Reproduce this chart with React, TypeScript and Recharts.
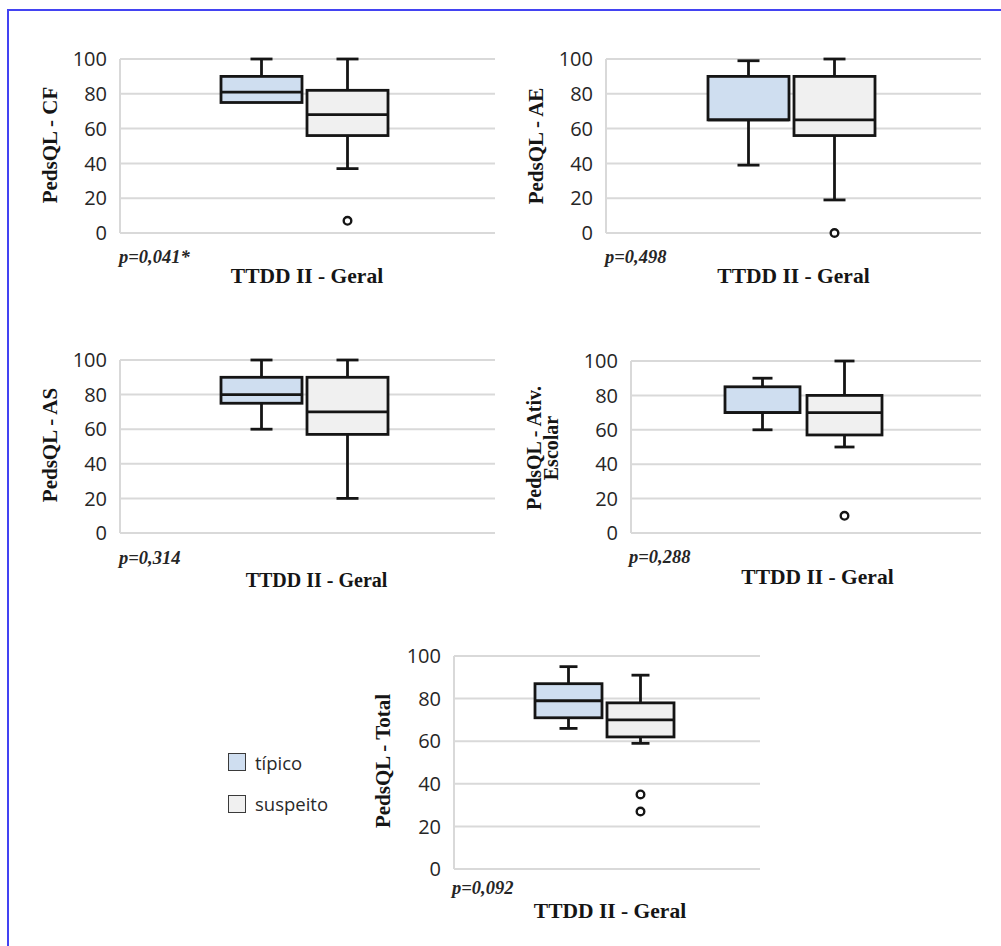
import { Bar, CartesianGrid, ComposedChart, XAxis, YAxis } from "recharts";

const category = "TTDD II - Geral";
const yLabels = ["PedsQL - CF", "PedsQL - AE", "PedsQL - AS", "PedsQL - Ativ.\nEscolar", "PedsQL - Total"];
const pValues = ["p=0,041*", "p=0,498", "p=0,314", "p=0,288", "p=0,092"];
const yTicks = [0, 20, 40, 60, 80, 100];

// five-number summaries, one entry per panel (CF, AE, AS, Ativ. Escolar, Total)
const tipicoMin = [75, 39, 60, 60, 66];
const tipicoQ1 = [75, 65, 75, 70, 71];
const tipicoMedian = [81, 65, 80, 70, 79];
const tipicoQ3 = [90, 90, 90, 85, 87];
const tipicoMax = [100, 99, 100, 90, 95];
const tipicoOutliers: number[][] = [[], [], [], [], []];

const suspeitoMin = [37, 19, 20, 50, 59];
const suspeitoQ1 = [56, 56, 57, 57, 62];
const suspeitoMedian = [68, 65, 70, 70, 70];
const suspeitoQ3 = [82, 90, 90, 80, 78];
const suspeitoMax = [100, 100, 100, 100, 91];
const suspeitoOutliers: number[][] = [[7], [0], [], [10], [35, 27]];

const TIPICO_FILL = "#cfdef0";
const SUSPEITO_FILL = "#f0f0f0";
const INK = "#151515";
const GRID = "#d9d9d9";

type Stats = { min: number; q1: number; median: number; q3: number; max: number; outliers: number[] };

const layouts = [
  { left: 120, top: 59, w: 375, h: 174, bar: 81, gap: 5, padR: 6, label: [49.5, 145], p: [119, 256.5], title: [307, 277, 21.5] },
  { left: 606, top: 59, w: 375, h: 174, bar: 81, gap: 5, padR: 4, label: [535.5, 146], p: [605, 256.5], title: [793.5, 277, 21.5] },
  { left: 120, top: 360, w: 375, h: 173, bar: 81, gap: 5, padR: 6, label: [49.5, 445], p: [119, 558], title: [316.5, 580, 20] },
  { left: 631, top: 361, w: 350, h: 172, bar: 75, gap: 7, padR: 5, label: [543, 448], p: [629, 557], title: [817.5, 578, 21.5] },
  { left: 454, top: 656, w: 306, h: 213, bar: 67, gap: 5, padR: 5, label: [382.5, 761], p: [452, 888], title: [610, 912, 21.5] },
];

function makeBox(stats: Stats, fill: string) {
  return (props: any) => {
    const { x, y, width, height } = props;
    if (x == null || y == null || !height) return <g />;
    // bar spans [min, max]; map any value through the same linear scale
    const toY = (v: number) => y + (height * (stats.max - v)) / (stats.max - stats.min);
    const cx = x + width / 2;
    const cap = Math.round(width * 0.27);
    const yMax = toY(stats.max);
    const yQ3 = toY(stats.q3);
    const yMed = toY(stats.median);
    const yQ1 = toY(stats.q1);
    const yMin = toY(stats.min);
    return (
      <g stroke={INK} strokeWidth={2.8}>
        <line x1={cx} x2={cx} y1={yMax} y2={yQ3} />
        <line x1={cx - cap / 2} x2={cx + cap / 2} y1={yMax} y2={yMax} />
        <line x1={cx} x2={cx} y1={yQ1} y2={yMin} />
        {yMin - yQ1 > 1 && <line x1={cx - cap / 2} x2={cx + cap / 2} y1={yMin} y2={yMin} />}
        <rect x={x} y={yQ3} width={width} height={yQ1 - yQ3} fill={fill} />
        <line x1={x} x2={x + width} y1={yMed} y2={yMed} />
        {stats.outliers.map((o, i) => (
          <circle key={i} cx={cx} cy={toY(o)} r={3.8} fill="#fff" strokeWidth={2.4} />
        ))}
      </g>
    );
  };
}

function Panel({ i }: { i: number }) {
  const L = layouts[i];
  const tip: Stats = {
    min: tipicoMin[i], q1: tipicoQ1[i], median: tipicoMedian[i], q3: tipicoQ3[i], max: tipicoMax[i], outliers: tipicoOutliers[i],
  };
  const sus: Stats = {
    min: suspeitoMin[i], q1: suspeitoQ1[i], median: suspeitoMedian[i], q3: suspeitoQ3[i], max: suspeitoMax[i], outliers: suspeitoOutliers[i],
  };
  const data = [{ name: category, tipico: [tip.min, tip.max], suspeito: [sus.min, sus.max] }];
  const axisW = 60;
  const pad = 22;
  const lines = yLabels[i].split("\n");

  return (
    <>
      <div style={{ position: "absolute", left: L.left - axisW, top: L.top - pad }}>
        <ComposedChart
          width={axisW + L.w + 2}
          height={L.h + pad * 2}
          data={data}
          margin={{ top: pad, right: 2, bottom: pad, left: 0 }}
          barGap={L.gap}
        >
          <CartesianGrid vertical={false} stroke={GRID} strokeWidth={2} />
          <XAxis dataKey="name" hide padding={{ left: 0, right: L.padR }} />
          <YAxis
            type="number"
            domain={[0, 100]}
            ticks={yTicks}
            width={axisW}
            interval={0}
            axisLine={{ stroke: GRID, strokeWidth: 2 }}
            tickLine={false}
            tickSize={0}
            tickMargin={13}
            tick={{ fill: "#262626", fontSize: 20, fontFamily: "Open Sans" }}
          />
          <Bar dataKey="tipico" barSize={L.bar} isAnimationActive={false} shape={makeBox(tip, TIPICO_FILL)} />
          <Bar dataKey="suspeito" barSize={L.bar} isAnimationActive={false} shape={makeBox(sus, SUSPEITO_FILL)} />
        </ComposedChart>
      </div>
      <div
        style={{
          position: "absolute",
          left: L.label[0],
          top: L.label[1],
          transform: "translate(-50%, -50%) rotate(-90deg)",
          fontFamily: "Liberation Serif",
          fontWeight: 700,
          fontSize: lines.length > 1 ? 20 : 21,
          lineHeight: lines.length > 1 ? "17px" : 1,
          textAlign: "center",
          whiteSpace: "nowrap",
          color: INK,
        }}
      >
        {lines.map((t, k) => (
          <div key={k}>{t}</div>
        ))}
      </div>
      <div
        style={{
          position: "absolute",
          left: L.p[0],
          top: L.p[1],
          transform: "translateY(-50%)",
          fontFamily: "Liberation Serif",
          fontWeight: 700,
          fontStyle: "italic",
          fontSize: 18.5,
          lineHeight: 1,
          whiteSpace: "nowrap",
          color: "#262626",
        }}
      >
        {pValues[i]}
      </div>
      <div
        style={{
          position: "absolute",
          left: L.title[0],
          top: L.title[1],
          transform: "translate(-50%, -50%)",
          fontFamily: "Liberation Serif",
          fontWeight: 700,
          fontSize: L.title[2],
          lineHeight: 1,
          whiteSpace: "nowrap",
          color: INK,
        }}
      >
        {category}
      </div>
    </>
  );
}

const legendItems = [
  { name: "típico", fill: TIPICO_FILL, y: 762.5 },
  { name: "suspeito", fill: SUSPEITO_FILL, y: 804 },
];

export default function App() {
  return (
    <div style={{ position: "absolute", left: 0, top: 0, width: 1001, height: 946, background: "#fff", overflow: "hidden" }}>
      <div
        style={{
          position: "absolute",
          left: 7,
          top: 9,
          width: 1010,
          height: 960,
          borderTop: "2px solid #4343f2",
          borderLeft: "2px solid #4343f2",
        }}
      />
      {layouts.map((_, i) => (
        <Panel key={i} i={i} />
      ))}
      {legendItems.map((it) => (
        <div key={it.name}>
          <div
            style={{
              position: "absolute",
              left: 228,
              top: it.y - 9.5,
              width: 16,
              height: 16,
              background: it.fill,
              border: "1.5px solid #3a3a3a",
            }}
          />
          <div
            style={{
              position: "absolute",
              left: 255,
              top: it.y,
              transform: "translateY(-50%)",
              fontFamily: "Open Sans",
              fontSize: 18.5,
              lineHeight: 1,
              color: "#2a2a2a",
              whiteSpace: "nowrap",
            }}
          >
            {it.name}
          </div>
        </div>
      ))}
    </div>
  );
}
